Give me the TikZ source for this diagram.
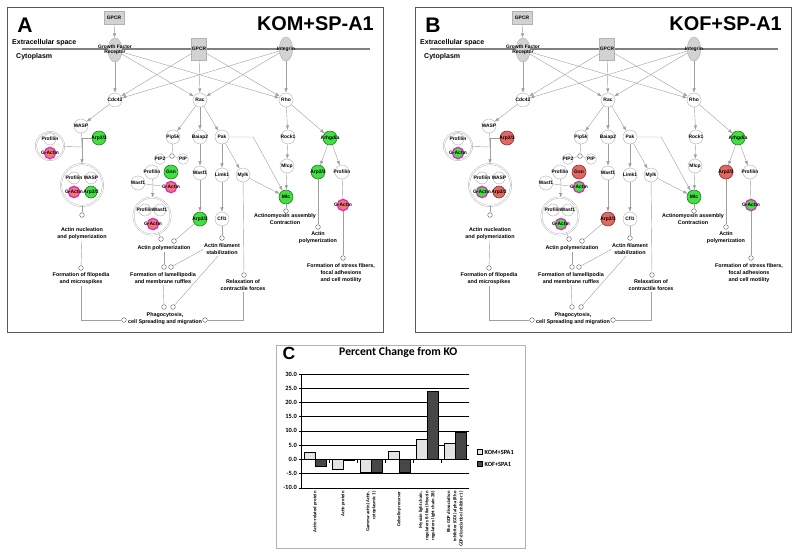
\documentclass[tikz,border=0pt]{standalone}
\usepackage{fontspec}
\setmainfont{Liberation Sans}
\newfontfamily\calfont{Carlito}
\usetikzlibrary{positioning,arrows.meta,shapes.geometric}
\definecolor{greenc}{RGB}{66,222,66}
\definecolor{redc}{RGB}{226,102,98}
\definecolor{salmonc}{RGB}{242,120,110}
\definecolor{magring}{RGB}{222,40,200}
\newcommand{\nfont}{\fontsize{4.2}{4.6}\selectfont\bfseries}
\newcommand{\ffont}{\fontsize{4.6}{6}\selectfont\bfseries}
\tikzset{
  flowarrow/.style={-{Latex[length=1.3mm,width=1mm]}, gray!75, line width=0.35pt},
  plainline/.style={gray!75, line width=0.35pt},
  protnode/.style={circle, draw=gray!70, fill=white, line width=0.3pt, minimum size=4.2mm, inner sep=0pt, font=\nfont,
    execute at begin node={\hbox to 0pt\bgroup\hss}, execute at end node={\hss\egroup}},
  membnode/.style={protnode, minimum size=3.6mm},
  smallnode/.style={protnode, minimum size=3.2mm},
  colnode/.style={protnode, fill=#1, draw=#1!55!black, line width=0.5pt},
  actinnode/.style={protnode, fill=#1, draw=magring, line width=1.1pt, minimum size=3.4mm},
  membox/.style={draw=gray!60, fill=gray!35, minimum width=4.5mm, minimum height=6.6mm, inner sep=0pt, font=\nfont},
  memell/.style={ellipse, draw=gray!60, fill=gray!35, minimum width=4.2mm, minimum height=7.2mm, inner sep=0pt},
  memtext/.style={font=\nfont, align=center, inner sep=0pt},
  cplx/.style={circle, draw=gray!70, double=white, double distance=0.8pt, line width=0.3pt, fill=white, minimum size=#1, inner sep=0pt},
  fdot/.style={circle, draw=gray!70!black, fill=white, line width=0.35pt, minimum size=1.4mm, inner sep=0pt},
  flabel/.style={font=\ffont, align=center, inner sep=0.5pt, anchor=north},
  panelframe/.style={draw=gray!70!black, line width=0.7pt},
  membrane/.style={black!50, line width=2.4pt},
  paneltag/.style={font=\fontsize{18}{18}\selectfont\bfseries, inner sep=0pt},
  paneltitle/.style={font=\fontsize{17}{17}\selectfont\bfseries, inner sep=0pt},
  spacetext/.style={font=\fontsize{6}{6}\selectfont\bfseries, inner sep=0pt},
  chartframe/.style={draw=gray!60, line width=0.6pt},
  gridline/.style={black, line width=0.35pt},
  lightbar/.style={draw=black, line width=0.35pt, fill=gray!22},
  darkbar/.style={draw=black, line width=0.35pt, fill=black!72},
  ticklabel/.style={font=\calfont\fontsize{5.5}{6}\selectfont\bfseries, anchor=east, inner sep=0pt},
  catlabel/.style={font=\calfont\fontsize{4}{5.3}\selectfont\bfseries, rotate=90, anchor=east, align=right, inner sep=0.5pt},
  legbox/.style={draw=black, line width=0.3pt, minimum size=1.5mm, inner sep=0pt},
  legtext/.style={font=\calfont\fontsize{5.4}{6}\selectfont\bfseries, inner sep=0.5pt}
}
\begin{document}
\begin{tikzpicture}[x=0.3mm, y=-0.3mm]
\useasboundingbox (0,0) rectangle (800,557);

\foreach \dx/\plab/\ptitle/\pact/\parp in {0/A/KOM+SP-A1/salmonc/greenc, 408/B/KOF+SP-A1/greenc/redc}{
\begin{scope}[shift={(\dx,0)}]
  \draw[panelframe] (7,7) rectangle (383,332);
  \node[paneltag] (tag) at (25,25) {\plab};
  \node[paneltitle, anchor=east] (title) at (374,24) {\ptitle};
  \draw[membrane] (22,49) -- (370,49);
  \node[spacetext, anchor=west] (extra) at (12,43) {Extracellular space};
  \node[spacetext, anchor=west] (cyto) at (16,57) {Cytoplasm};

  \node[membox, minimum width=6mm, minimum height=3.9mm] (gpcrtop) at (114,18) {GPCR};
  \node[memell] (gfr) at (115,50) {};
  \node[memtext] (gfrtxt) at (gfr) {Growth Factor\\Receptor};
  \node[membox] (gpcr) at (199,49) {GPCR};
  \node[memell, minimum width=4mm] (itg) at (286,49) {};
  \node[memtext] (itgtxt) at (itg) {Integrin};

  \node[protnode] (cdc) at (115,100) {Cdc42};
  \node[protnode] (rac) at (200,100) {Rac};
  \node[protnode] (rho) at (286,100) {Rho};

  \node[protnode] (wasp) at (81,126) {WASP};
  \node[colnode=\parp] (arpa) at (99,138) {Arp2/3};
  \node[cplx=8.4mm] (cx1) at (50,146) {};
  \node[membnode] (prof1) at (50,139) {Profilin};
  \node[actinnode=\pact] (act1) at (50,153) {G-Actin};
  \node[cplx=12.6mm] (cx2) at (82,185) {};
  \node[membnode] (prof2) at (74,178) {Profilin};
  \node[membnode] (wasp2) at (91,178) {WASP};
  \node[actinnode=\pact] (act2) at (74,192) {G-Actin};
  \node[colnode=\parp, minimum size=3.6mm] (arp2) at (91,192) {Arp2/3};
  \node[fdot] (fnuc) at (82,215) {};
  \node[flabel] (fnuctxt) at (82,227) {Actin nucleation\\and polymerization};
  \node[fdot] (ffilo) at (81,268) {};
  \node[flabel] (ffilotxt) at (81,272) {Formation of filopedia\\and microspikes};

  \node[protnode] (pip5k) at (173,137) {Pip5k};
  \node[fdot] (rxn) at (172,156) {};
  \node[smallnode] (pip2) at (160,159) {PIP2};
  \node[smallnode] (pip) at (183,159) {PIP};
  \node[protnode] (profm) at (152,172) {Profilin};
  \node[colnode=\parp] (gsn) at (171,172) {Gsn};
  \node[protnode] (wasfl) at (138,183) {Wasf1};
  \node[actinnode=\pact] (actm) at (171,187) {G-Actin};
  \coordinate (j2) at (153,185);
  \node[cplx=11.1mm] (cx3) at (152,216) {};
  \node[membnode] (prof3) at (145,210) {Profilin};
  \node[membnode] (wasf3) at (160,210) {Wasf1};
  \node[actinnode=\pact] (act3) at (153,224) {G-Actin};
  \node[fdot] (fpa) at (161,239) {};
  \node[fdot] (fpb) at (174,241) {};
  \node[flabel] (fpolytxt) at (164,245) {Actin polymerization};
  \node[fdot] (fla) at (164,267) {};
  \node[fdot] (flb) at (171,267) {};
  \node[flabel] (flamtxt) at (163,272) {Formation of lamellipodia\\and membrane ruffles};

  \node[protnode] (baiap) at (200,137) {Baiap2};
  \node[protnode] (wasf) at (200,173) {Wasf1};
  \node[colnode=\parp] (arpw) at (200,219) {Arp2/3};
  \node[protnode] (pak) at (222,137) {Pak};
  \node[protnode] (limk) at (222,175) {Limk1};
  \node[protnode] (cfl) at (222,219) {Cfl1};
  \node[fdot] (fstab) at (222,238) {};
  \node[flabel] (fstabtxt) at (222,243) {Actin filament\\stabilization};
  \node[protnode] (mylk) at (243,175) {Mylk};
  \node[fdot] (frelax) at (244,275) {};
  \node[flabel] (frelaxtxt) at (243,279) {Relaxation of\\contractile forces};

  \node[protnode] (rock) at (288,137) {Rock1};
  \node[protnode] (mlcp) at (287,166) {Mlcp};
  \node[colnode=greenc] (mlc) at (286,197) {Mlc};
  \node[fdot] (fcon) at (286,211) {};
  \node[flabel] (fcontxt) at (285,213) {Actinomyosin assembly\\Contraction};
  \node[colnode=greenc] (arhg) at (330,138) {Arhgdia};
  \node[colnode=\parp] (arpr) at (318,172) {Arp2/3};
  \node[protnode] (profr) at (342,172) {Profilin};
  \node[actinnode=\pact] (actr) at (343,205) {G-Actin};
  \node[fdot] (fpr) at (318,227) {};
  \node[flabel] (fprtxt) at (318,231) {Actin\\polymerization};
  \node[fdot] (fst) at (343,258) {};
  \node[flabel] (fsttxt) at (341,263) {Formation of stress fibers,\\focal adhesions\\and cell motility};

  \node[fdot] (fpha) at (164,307) {};
  \node[fdot] (fphb) at (173,307) {};
  \node[fdot] (fphl) at (124,320) {};
  \node[fdot] (fphr) at (205,320) {};
  \node[flabel] (fphtxt) at (165,312) {Phagocytosis,\\cell Spreading and migration};

  \draw[flowarrow] (gpcrtop) -- (gfr);
  \foreach \src in {gfr,gpcr,itg} \foreach \tgt in {cdc,rac,rho} \draw[flowarrow] (\src) -- (\tgt);
  \draw[flowarrow] (cdc) -- (wasp);
  \foreach \tgt in {pip5k,baiap,pak} \draw[flowarrow] (rac) -- (\tgt);
  \foreach \tgt in {rock,arhg} \draw[flowarrow] (rho) -- (\tgt);
  \draw[flowarrow] (rock) -- (mlcp);
  \draw[flowarrow] (mlcp) -- (mlc);
  \draw[flowarrow] (pak) -- (limk);
  \draw[flowarrow] (pak) -- (mylk);
  \draw[flowarrow] (pak.east) -- ++(24,0) -- (mlc);
  \draw[flowarrow] (mylk) -- (mlc);
  \draw[flowarrow] (baiap) -- (wasf);
  \draw[flowarrow] (wasf) -- (arpw);
  \draw[flowarrow] (limk) -- (cfl);
  \draw[flowarrow] (arhg) -- (arpr);
  \draw[flowarrow] (arhg) -- (profr);
  \draw[plainline] (profr) -- (actr);
  \draw[plainline] (pip5k) -- (rxn);
  \draw[plainline] (pip2) -- (rxn) -- (pip);

  \coordinate (j1) at (82,147);
  \draw[plainline] (wasp) -- (j1);
  \draw[plainline] (arpa.west) -| (j1);
  \draw[plainline] (cx1) -- (j1);
  \draw[flowarrow] (j1) -- (cx2);
  \draw[plainline] (profm) -- (j2);
  \draw[plainline] (wasfl) -- (j2);
  \draw[plainline] (actm) -- (j2);
  \draw[flowarrow] (j2) -- (cx3);

  \draw[plainline] (cx2) -- (fnuc);
  \draw[plainline] (fnuctxt) -- (ffilo);
  \draw[plainline] (cx3) -- (fpa);
  \draw[plainline] (arpw) -- (fpb);
  \draw[plainline] (fpolytxt) -- (fla);
  \draw[plainline] (fstabtxt.west) -- (flb);
  \draw[plainline] (cfl) -- (fstab);
  \draw[plainline] (mylk) -- (frelax);
  \draw[plainline] (mlc) -- (fcon);
  \draw[plainline] (arpr) -- (fpr);
  \draw[plainline] (actr) -- (fst);
  \draw[plainline] (flamtxt) -- (fpha);
  \draw[plainline] (fstabtxt.240) -- (fphb);
  \draw[plainline] (ffilotxt) |- (fphl);
  \draw[plainline] (frelaxtxt) |- (fphr);
\end{scope}
}

\draw[chartframe] (276,345) rectangle (525,548);
\node[paneltag, font=\fontsize{15}{15}\selectfont\bfseries] (ctag) at (289,353) {C};
\node[font=\calfont\fontsize{10}{12}\selectfont\bfseries, anchor=west, inner sep=0pt] (ctitle) at (339,352) {Percent Change from KO};
\begin{scope}[shift={(301,459.3)}, yscale=-2.843]
  \foreach \g in {-10,-5,...,30} {
    \draw[gridline] (-2.5,\g) -- (168,\g);
    \node[ticklabel] (yl\g) at (-4,\g) {\g.0};
  }
  \draw[gridline] (0,-10) -- (0,30);
  \foreach \k in {1,...,5} \draw[gridline] (28*\k,0) -- (28*\k,-1.2);
  \foreach \v/\w [count=\i from 0] in {2.5/-2.5, -3.5/-0.3, -4.5/-4.5, 3.0/-4.5, 7.2/24.0, 5.8/9.4} {
    \draw[lightbar] (28*\i+3,0) rectangle (28*\i+14,\v);
    \draw[darkbar] (28*\i+14,0) rectangle (28*\i+25,\w);
  }
  \foreach \txt [count=\i from 0] in {{Actin-related protein}, {Actin protein}, {Gamma-actin (Actin,\\cytoplasmic 1)}, {Gelsolin precursor}, {Myosin light chain,\\regulatory B-like (Myosin\\regulatory light chain 2B)}, {Rho GDP dissociation\\inhibitor (GDI) alpha (Rho\\GDP-dissociation inhibitor 1)}}
    \node[catlabel] (cat\i) at (28*\i+14,-11) {\txt};
\end{scope}
\node[legbox, fill=gray!22] (legm) at (480,452) {};
\node[legtext, right=1pt of legm] (legmtxt) {KOM+SPA1};
\node[legbox, fill=black!72] (legf) at (480,464) {};
\node[legtext, right=1pt of legf] (legftxt) {KOF+SPA1};
\end{tikzpicture}
\end{document}
